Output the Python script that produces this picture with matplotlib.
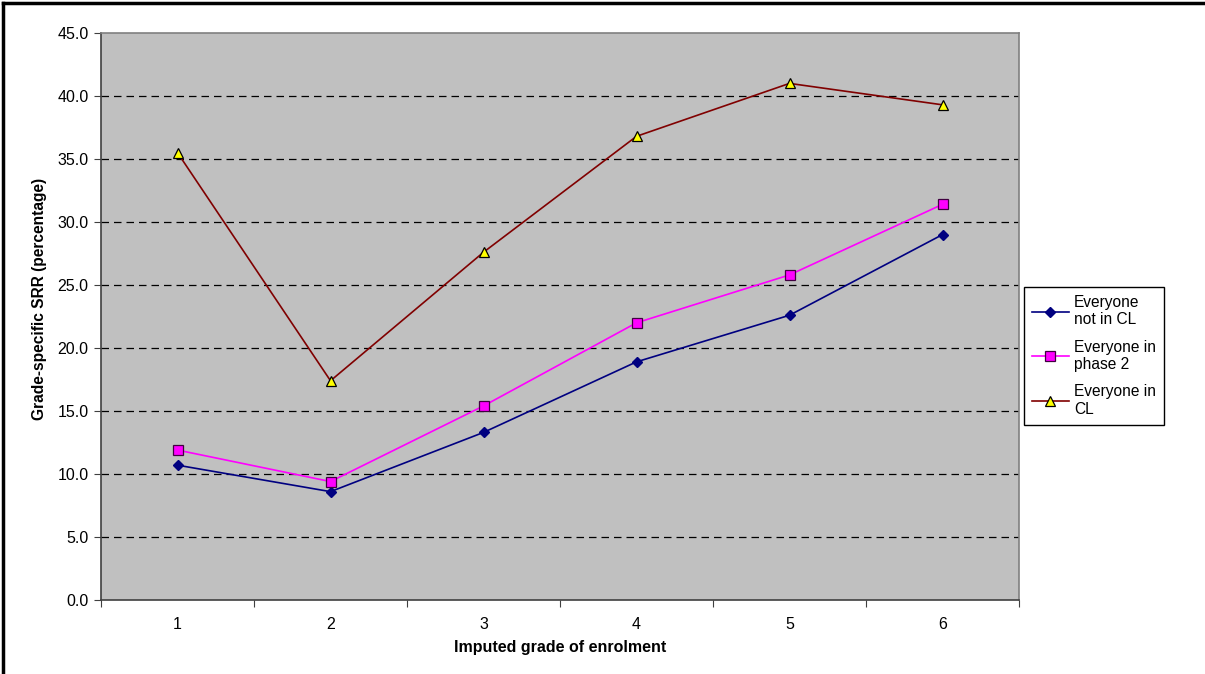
import matplotlib
matplotlib.use('Agg')
from matplotlib import pyplot as plt
from matplotlib.lines import Line2D

plt.rcParams['font.family'] = ['Liberation Sans', 'DejaVu Sans']

# data
grades = [1, 2, 3, 4, 5, 6]
not_in_cl = [10.7, 8.6, 13.3, 18.9, 22.6, 29.0]
phase_2 = [11.9, 9.4, 15.4, 22.0, 25.8, 31.4]
in_cl = [35.5, 17.4, 27.6, 36.8, 41.0, 39.3]
y_ticks = [0, 5, 10, 15, 20, 25, 30, 35, 40, 45]

fig = plt.figure(figsize=(12.05, 6.74), dpi=100)
ax = fig.add_axes([101 / 1205, 74 / 674, 918 / 1205, 567 / 674])
ax.set_facecolor('#c0c0c0')

ax.plot(grades, not_in_cl, color='#000080', lw=1.2, marker='D', ms=5.5,
        mfc='#000080', mec='#000080', label='Everyone\nnot in CL', zorder=3)
ax.plot(grades, phase_2, color='#ff00ff', lw=1.2, marker='s', ms=6.5,
        mfc='#ff00ff', mec='#400040', mew=0.9, label='Everyone in\nphase 2', zorder=3)
ax.plot(grades, in_cl, color='#800000', lw=1.2, marker='^', ms=7,
        mfc='#ffff00', mec='black', mew=0.9, label='Everyone in\nCL', zorder=3)

ax.set_xlim(0.5, 6.5)
ax.set_ylim(0, 45)
ax.set_yticks(y_ticks)
ax.set_yticklabels(['%.1f' % v for v in y_ticks])
ax.set_xticks([g + 0.5 for g in [0] + grades])
ax.set_xticklabels([])
ax.set_xticks(grades, minor=True)
ax.set_xticklabels([str(g) for g in grades], minor=True)
ax.tick_params(axis='x', which='minor', length=0, pad=12, labelsize=11.5)
ax.tick_params(axis='x', which='major', length=5, direction='out', color='#404040')
ax.tick_params(axis='y', length=5, direction='out', color='#404040', labelsize=11.5, pad=4)

for v in y_ticks[1:-1]:
    ax.axhline(v, color='black', lw=0.9, ls=(0, (6, 4)), zorder=1)

ax.spines['left'].set_color('#404040')
ax.spines['bottom'].set_color('#404040')
ax.spines['top'].set_color('#808080')
ax.spines['right'].set_color('#808080')
for s in ax.spines.values():
    s.set_linewidth(1.2)

ax.set_xlabel('Imputed grade of enrolment', fontsize=11.5, fontweight='bold', labelpad=6)
ax.set_ylabel('Grade-specific SRR (percentage)', fontsize=11.2, fontweight='bold',
              va='center')
ax.yaxis.set_label_coords(-0.0675, 0.531)

leg = ax.legend(loc='upper left', bbox_to_anchor=(1024 / 1205, 1 - 287 / 674),
                bbox_transform=fig.transFigure, fontsize=11.2, frameon=True,
                fancybox=False, edgecolor='black', framealpha=1, borderaxespad=0,
                handlelength=2.4, labelspacing=0.8, borderpad=0.5, handletextpad=0.3)
leg.get_frame().set_linewidth(1.0)

# outer border (left and top only, the rest is cropped off)
fig.add_artist(Line2D([3 / 1205, 3 / 1205], [0, 1 - 3 / 674], color='black', lw=2.5))
fig.add_artist(Line2D([3 / 1205, 1], [1 - 3 / 674, 1 - 3 / 674], color='black', lw=2.5))

fig.savefig('out.png', dpi=100)
